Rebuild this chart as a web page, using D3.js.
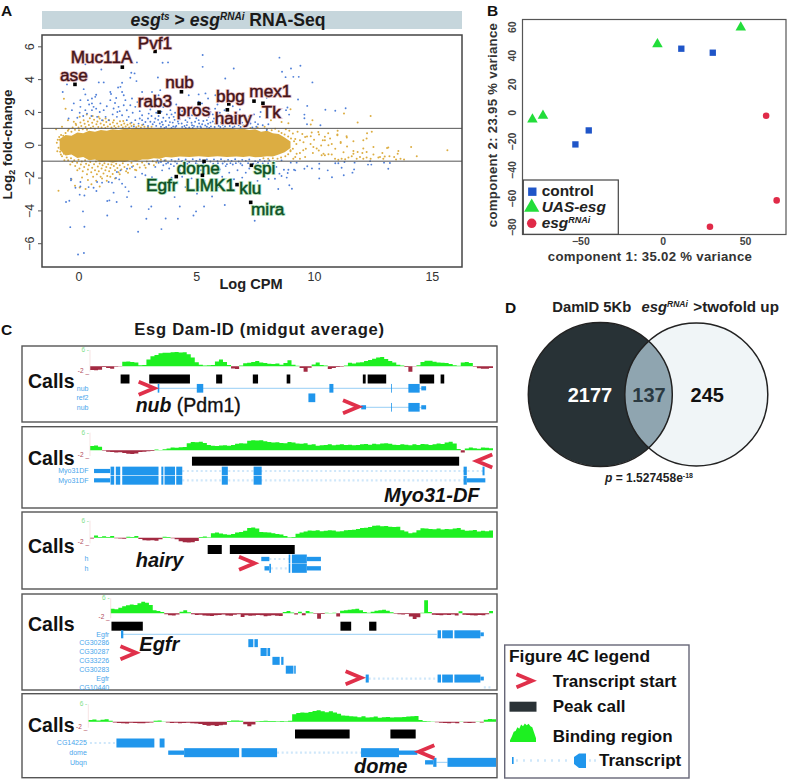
<!DOCTYPE html>
<html>
<head>
<meta charset="utf-8">
<script src="https://cdn.jsdelivr.net/npm/d3@7"></script>
<style>
  html, body { margin: 0; padding: 0; background: #fff; }
  svg { display: block; font-family: "Liberation Sans", Arial, sans-serif; }
</style>
</head>
<body>
<div id="chart"></div>
<script>
// ---- panel A: MA plot ----
const maTicksX = [0, 5, 10, 15];
const maTicksY = [-6, -4, -2, 0, 2, 4, 6];
// solid gold core of the cloud, read as an envelope along log CPM
const coreCpm = [-0.8,-0.55,-0.3,-0.05,0.2,0.45,0.7,0.95,1.2,1.45,1.7,1.95,2.2,2.45,2.7,2.95,3.2,3.45,3.7,3.95,4.3,4.7,5.1,5.5,5.9,6.3,6.7,7,7.25,7.5,7.75,8,8.25,8.5,8.75,9];
const coreTop = [0.35,0.6,0.55,0.75,0.7,0.85,0.8,0.9,0.85,0.95,0.9,0.98,0.95,1,0.96,1,0.97,1,0.95,1,0.96,1,0.95,1,0.96,1,0.95,0.98,0.9,0.95,0.8,0.85,0.7,0.65,0.45,0.2];
const coreBot = [-0.3,-0.65,-0.6,-0.8,-0.75,-0.95,-0.9,-1.05,-1,-1.1,-1,-1.05,-0.95,-1,-0.9,-0.9,-0.82,-0.85,-0.75,-0.78,-0.72,-0.75,-0.7,-0.74,-0.7,-0.75,-0.72,-0.74,-0.7,-0.76,-0.75,-0.7,-0.72,-0.6,-0.45,-0.2];

const goldPoints = [
  [-0.85,-2.8],[-0.45,1.5],[-0.62,2.8],[-0.7,1.1],[-0.95,0.95],[-0.55,2.2],[-0.3,-2.1],[-0.15,-2.5],[0.05,-2.6],[0.3,-2.7],[0.55,-2.4],[0.9,-2.55],[1.2,-2.2],[1.55,-2.05],
  [-0.2,1.4],[0.05,1.7],[0.35,1.85],[0.6,1.75],[0.85,1.7],[1.15,1.6],[1.5,1.5],[1.9,1.45],[2.2,1.3],[2.7,1.2],[0.15,-2.0],[0.4,-2.15],[0.75,-2.2],[1.0,-2.05],[1.35,-1.95],[1.75,-1.8],[2.1,-1.7],[2.45,-1.55],[2.85,-1.4],[3.2,-1.25],
  [-0.8,0.3],[-0.9,-0.4],[-0.75,-0.6],[-0.6,-0.95],[-0.45,0.85],[-0.35,-1.2],[-0.1,1.2],[-0.05,-1.55],
  // left shoulder above the cloud
  [-0.55,0.72],[-0.42,0.95],[-0.3,0.8],[-0.25,1.05],[-0.15,0.92],[-0.12,1.28],[0.0,1.05],[0.02,0.88],[0.08,1.35],[0.12,1.15],[0.18,0.95],[0.22,1.5],[0.26,1.28],[0.3,1.08],[0.36,0.92],[0.4,1.42],[0.44,1.2],[0.48,1.62],[0.52,1.02],[0.58,1.34],[0.62,1.12],[0.66,1.52],[0.7,0.98],[0.76,1.25],[0.8,1.42],[0.84,1.08],[0.9,1.6],[0.94,1.3],[0.98,1.05],[1.04,1.48],[1.08,1.2],[1.14,1.02],[1.18,1.38],[1.24,1.12],[1.3,1.5],[1.34,1.25],[1.4,1.05],[1.46,1.36],[1.52,1.15],[1.58,1.02],[1.64,1.3],[1.7,1.12],[1.76,1.44],[1.82,1.2],[1.88,1.05],[1.94,1.3],[2.0,1.12],[2.08,1.22],[2.15,1.05],[2.25,1.15],[2.35,1.24],[2.45,1.06],[2.55,1.14],[2.65,1.05],[2.8,1.1],[2.95,1.06],[3.1,1.1],
  // left shoulder below the cloud
  [-0.5,-0.78],[-0.44,-0.95],[-0.32,-0.82],[-0.26,-1.05],[-0.18,-0.95],[-0.14,-1.3],[-0.06,-1.1],[0.0,-0.92],[0.04,-1.45],[0.1,-1.2],[0.14,-1.02],[0.18,-1.62],[0.24,-1.36],[0.28,-0.95],[0.32,-1.15],[0.36,-1.8],[0.4,-1.5],[0.44,-1.25],[0.5,-1.05],[0.54,-1.68],[0.58,-1.4],[0.62,-1.95],[0.66,-1.18],[0.7,-1.55],[0.74,-1.02],[0.78,-1.8],[0.82,-1.32],[0.86,-1.62],[0.9,-1.14],[0.94,-1.95],[0.98,-1.45],[1.02,-1.25],[1.06,-1.75],[1.1,-1.12],[1.14,-1.55],[1.18,-1.35],[1.22,-1.9],[1.26,-1.18],[1.3,-1.62],[1.35,-1.42],[1.4,-1.2],[1.45,-1.78],[1.5,-1.3],[1.55,-1.55],[1.6,-1.15],[1.65,-1.42],[1.7,-1.68],[1.75,-1.25],[1.82,-1.5],[1.88,-1.12],[1.95,-1.35],[2.02,-1.62],[2.1,-1.22],[2.18,-1.45],[2.25,-1.1],[2.32,-1.3],[2.4,-1.52],[2.5,-1.18],[2.6,-1.38],[2.7,-1.08],[2.8,-1.25],[2.9,-1.02],[3.0,-1.18],[3.15,-1.0],[3.3,-1.08],[3.5,-0.92],[3.7,-0.95],
  // left tip and right tail of the cloud
  [-0.92,0.12],[-0.88,0.3],[-0.85,-0.18],[-0.82,0.48],[-0.78,-0.42],[-0.74,0.6],[-0.7,-0.7],[-0.65,0.55],[-0.62,-0.55],
  [7.3,1.02],[7.6,1.05],[7.9,1.1],[8.0,0.95],[8.2,0.88],[8.35,0.98],[8.5,0.82],[8.62,0.72],[8.75,0.62],[8.9,0.5],[9.02,0.38],[9.15,0.22],[9.25,0.05],[9.1,-0.25],[9.0,-0.4],[8.9,-0.58],[8.78,-0.7],[8.6,-0.78],[8.45,-0.85],[8.25,-0.82],[8.05,-0.85],[7.85,-0.82],
  [8.17,1.5],[8.62,1.39],[8.91,1.31],[9.0,2.17],[9.86,1.23],[9.93,1.5],[11.27,1.9],[12.4,1.76],[11.85,1.36],
  [10.18,0.78],[10.21,0.62],[10.99,0.62],[10.68,0.38],[11.38,0.52],[12.23,0.38],[12.09,0.28],[11.67,0.22],[11.13,0.17],[10.46,0.28],[9.9,0.75],[9.5,0.66],[9.3,0.8],[9.7,0.5],[10.0,0.3],[9.55,0.15],[9.2,0.35],[9.85,0.05],[10.3,-0.05],[10.75,0.05],[11.4,-0.1],[10.9,-0.25],[10.2,-0.35],[9.65,-0.25],[9.4,-0.5],[9.2,-0.75],[9.95,-0.5],[10.4,-0.55],[9.1,0.68],[8.95,0.85],[8.8,0.95],
  [10.89,-0.85],[11.03,-0.91],[11.17,-0.85],[11.32,-0.89],[11.46,-0.78],[11.6,-0.7],[11.67,-0.54],[11.81,-0.85],[11.95,-0.74],[12.09,-0.85],[12.23,-0.78],[12.4,-0.85],[12.23,-0.44],[12.09,-0.23],[11.85,-0.44],[11.67,-0.38],[11.39,0.44],[11.13,0.11],[10.99,0.58],[10.61,-0.03],[10.46,0.49],[10.37,0.27],[10.11,-0.23],[9.86,0.52],[9.62,0.48],[9.4,0.27],[9.97,-0.13],[9.54,-0.34],[9.26,-0.54],[9.0,-0.34],[9.12,-0.85],[9.4,-0.85],[9.62,-0.74],[10.46,-0.64],[10.61,-0.58],[10.32,-0.64],[12.52,-0.13],[12.8,-0.75],[12.94,-0.85],[12.73,-0.78],[13.15,-0.17],[13.58,-0.38],[13.67,-0.85],[14.12,-0.13],[14.36,-0.7],[15.66,-0.34],[13.82,-0.9],[13.48,-0.9],[13.1,-0.2],[13.2,-0.7],[13.0,-0.72],[12.52,-0.6],[12.25,0.7],[12.45,0.8],[13.4,-0.75],[13.55,-0.55],[12.9,-0.5],[11.0,0.85],[10.6,0.7],[12.05,-0.5],[11.25,-0.45],[10.75,-0.6]
];
const blueUp = [
  [5.27,5.47],[3.8,5.02],[3.57,5.0],[3.37,4.1],[5.27,4.75],[6.59,4.65],[0.97,4.59],[0.29,4.9],[2.48,5.02],[2.24,4.39],[2.38,4.35],[2.2,4.08],[2.46,3.88],[1.85,3.78],[1.78,3.53],[1.68,3.49],[0.86,3.8],[1.07,3.8],[-0.49,3.68],[0.22,3.39],[-0.67,3.22],[1.35,3.22],[1.85,3.22],[1.38,3.09],[0.29,3.07],[1.92,3.02],[0.08,2.72],[0.57,2.82],[0.71,2.92],[0.4,2.72],[0.57,2.52],[-0.2,2.52],[0.93,2.52],[1.35,2.72],[1.99,2.72],[2.27,2.82],[2.7,3.22],[3.12,3.22],[3.47,3.33],[3.4,3.02],[3.83,3.02],[4.68,3.02],[5.1,3.07],[5.39,3.13],[5.5,2.82],[6.23,4.04],[5.1,2.62],[5.24,2.52],[5.81,3.02],[0.08,2.31],[0.29,2.11],[0.57,2.11],[0.64,2.31],[0.36,1.9],[0.79,1.7],[1.07,2.11],[1.49,2.21],[1.7,2.31],[1.92,2.41],[2.2,2.41],[2.41,2.31],[2.7,1.8],[2.98,1.9],[3.26,1.6],[2.13,1.7],[1.85,1.8],[1.63,1.7],[1.28,1.5],[1.0,1.5],[2.41,1.5],[2.55,1.29],[2.84,1.39],[3.54,1.39],[3.9,2.11],[4.04,1.7],[4.25,1.29],[4.54,1.5],[4.82,1.8],[5.1,1.5],[5.32,1.8],[5.52,1.7],[6.09,1.7],[5.81,1.29],[4.82,1.19],[4.4,1.09],[4.11,1.09],[3.83,1.19],[-0.28,2.11],[-0.42,1.6],[7.08,1.6],[6.8,1.19],[6.38,1.29],[6.16,1.0],
  [8.53,5.31],[9.02,4.65],[9.42,4.82],[8.64,4.45],[8.79,4.12],[9.12,4.14],[9.35,4.14],[9.93,3.8],[9.32,2.76],[9.71,2.37],[10.48,2.13],[10.9,2.07],[11.34,2.23],[8.87,2.27],[8.81,2.11],[8.94,1.84],[9.59,1.84],[9.59,1.62],[9.7,1.25],[10.27,1.19],[7.99,2.86],[7.73,2.0],[7.7,1.7],[8.06,1.25],[7.82,1.19],[7.99,0.9],
  [0.45,2.45],[0.75,2.2],[0.9,2.0],[0.2,1.75],[1.2,2.35],[1.55,2.55],[1.75,2.05],[2.05,2.1],[2.3,1.95],[2.6,2.05],[2.85,2.35],[3.05,2.15],[3.25,2.45],[3.6,2.3],[3.75,1.85],[3.15,1.25],[3.3,1.15],[3.5,1.1],[3.7,1.45],[3.85,1.65],[4.0,1.35],[4.15,1.15],[4.3,1.55],[4.45,1.85],[4.6,1.2],[4.7,1.05],[4.95,1.4],[5.05,1.1],[5.25,1.25],[5.45,1.1],[5.6,1.35],[5.75,1.6],[5.95,1.15],[6.05,1.35],[6.25,1.5],[6.45,1.65],[6.6,1.35],[6.7,1.85],[6.95,1.35],[7.15,1.15],[7.3,1.3],[7.45,1.85],[7.55,1.1],[7.1,1.05],[6.55,1.05],[5.55,1.02],[5.2,1.04],[4.55,1.03],[4.85,1.03],[3.95,1.02],[3.65,1.03],
  [1.45,1.85],[1.15,1.7],[0.55,1.75],[1.65,2.0],[2.25,1.35],[2.05,1.5],[2.7,1.5],[2.95,1.6],[3.1,1.75],[3.4,1.75],[3.6,1.65],[3.45,1.3],[3.05,1.4],[2.6,1.6],[4.1,1.95],[4.3,2.2],[4.55,2.0],[4.75,2.25],[4.95,1.95],[5.35,2.15],[5.6,2.0],[5.8,2.2],[6.0,1.95],[6.2,2.1],[5.9,2.45],[6.85,2.15],[6.55,2.35],[7.0,2.55],[4.15,2.45],[3.7,2.6],[2.95,2.6],[2.5,2.6],[1.6,2.85],[0.75,3.05],[0.05,1.95],[-0.05,1.65],
  // denser part of the band just over the +1 line
  [2.35,1.12],[2.75,1.24],[2.95,1.14],[3.22,1.38],[3.38,1.52],[3.58,1.22],[3.72,1.08],[3.88,1.38],[4.02,1.12],[4.08,1.52],[4.22,1.42],[4.38,1.3],[4.5,1.14],[4.62,1.38],[4.72,1.62],[4.8,1.34],[4.9,1.15],[5.0,1.62],[5.12,1.3],[5.18,1.12],[5.3,1.45],[5.38,1.18],[5.5,1.28],[5.62,1.12],[5.7,1.42],[5.78,1.08],[5.9,1.42],[6.02,1.08],[6.12,1.22],[6.22,1.12],[6.32,1.42],[6.42,1.14],[6.5,1.32],[6.62,1.12],[6.72,1.5],[6.88,1.08],[7.0,1.18],[7.22,1.4],[7.38,1.06],[7.5,1.38],[7.62,1.25],[3.3,1.95],[3.52,2.02],[3.95,1.85],[4.22,1.72],[4.4,2.05],[4.65,1.72],[5.0,2.2],[5.25,1.98],[5.45,1.5],[5.7,1.85],[5.95,1.72],[6.35,1.85],[6.6,1.68],[6.9,1.72],[7.25,1.72]
];
const blueDown = [
  [-0.53,-3.49],[-0.39,-3.41],[0.19,-4.06],[-0.35,-5.02],[0.25,-5.0],[-0.02,-6.69],[0.23,-6.6],[1.22,-4.31],[1.22,-3.43],[1.31,-3.39],[1.62,-3.49],[2.24,-3.76],[2.53,-5.3],[2.88,-4.51],[2.98,-3.92],[3.09,-3.76],[3.52,-5.14],[3.7,-4.49],[4.22,-4.51],[4.3,-3.76],[4.88,-4.31],[4.99,-4.06],[5.33,-3.76],[6.21,-3.67],[5.67,-3.15],[5.03,-2.98],[4.08,-3.19],[2.06,-3.19],[1.49,-2.92],[2.13,-2.84],[0.05,-3.04],[0.25,-3.09],[-0.13,-2.62],[0.08,-2.27],[0.08,-2.54],[-0.32,-2.07],[-0.32,-2.17],[0.43,-2.58],[0.64,-2.62],[0.76,-2.82],[0.79,-2.27],[1.0,-2.31],[1.28,-2.27],[1.42,-2.31],[1.59,-2.03],[1.73,-2.11],[1.85,-2.37],[1.99,-2.58],[1.63,-1.66],[1.78,-1.56],[2.06,-1.46],[2.27,-1.35],[2.41,-1.97],[2.7,-1.76],[2.84,-1.86],[3.12,-1.97],[3.4,-2.58],[4.04,-2.62],[3.7,-2.27],[3.26,-1.35],[2.98,-1.15],[3.55,-1.56],[4.54,-2.58],[5.1,-2.58],[5.46,-2.68],[5.95,-2.58],[6.52,-2.68],
  [7.48,-4.63],[8.95,-2.47],[9.06,-2.68],[8.48,-2.7],[10.22,-2.05],[10.76,-1.98],[11.26,-1.86],[11.63,-1.7],[11.7,-1.5],[11.17,-1.4],[10.58,-1.56],[10.22,-1.46],[10.22,-1.15],[9.59,-1.46],[9.71,-1.31],[9.91,-1.44],[9.15,-1.52],[9.2,-1.56],[8.91,-1.52],[8.88,-1.72],[8.72,-1.52],[8.84,-2.0],[8.62,-1.9],[8.53,-1.76],[8.34,-2.07],[8.07,-2.09],[9.01,-1.09],[9.26,-1.09],[10.9,-1.13],[11.03,-1.13],[11.29,-1.05],[11.72,-1.09],[12.29,-1.21],[12.43,-1.21],[12.38,-1.0],[12.97,-1.09],[13.22,-1.11],[13.15,-1.46],[8.62,-0.95],
  [3.35,-0.95],[3.5,-1.05],[3.65,-0.95],[3.8,-1.1],[3.95,-0.92],[4.1,-1.02],[4.25,-0.88],[4.4,-1.0],[4.55,-0.9],[4.7,-1.05],[4.85,-0.88],[5.0,-0.98],[5.15,-0.9],[5.45,-0.9],[5.6,-1.02],[5.75,-0.9],[5.9,-1.0],[6.05,-0.88],[6.2,-1.02],[6.35,-0.92],[6.5,-0.98],[6.65,-0.88],[6.8,-1.02],[6.95,-0.92],[7.1,-0.98],[7.25,-0.9],[7.5,-1.0],[7.7,-0.92],[7.9,-1.0],[8.1,-0.95],[8.3,-1.02],
  [3.6,-1.25],[3.85,-1.45],[4.05,-1.3],[4.3,-1.55],[4.5,-1.25],[4.65,-1.7],[4.9,-1.4],[5.05,-1.2],[5.2,-1.55],[5.5,-1.3],[5.65,-1.65],[5.85,-1.25],[6.0,-1.5],[6.25,-1.3],[6.4,-1.7],[6.55,-1.2],[6.75,-1.55],[6.95,-1.25],[7.1,-1.7],[7.25,-1.45],[7.55,-1.2],[7.7,-1.5],[7.85,-1.75],[8.0,-1.3],[8.2,-1.55],[8.4,-1.35],[6.1,-1.95],[5.8,-2.1],[5.35,-2.2],[4.8,-2.05],[4.4,-1.95],[3.95,-2.0],[6.6,-2.1],[6.95,-2.0],[7.6,-2.2],[7.3,-2.45],
  [3.4,-1.1],[3.72,-1.15],[3.92,-1.18],[4.18,-1.14],[4.35,-1.22],[4.62,-1.16],[4.78,-1.22],[4.98,-1.12],[5.3,-1.14],[5.72,-1.16],[5.92,-1.12],[6.12,-1.14],[6.3,-1.18],[6.45,-1.12],[6.68,-1.12],[6.88,-1.14],[7.2,-1.12],[7.42,-1.16],[7.62,-1.08],[7.82,-1.14],[8.05,-1.12],[8.25,-1.2]
];
const maGenesUp = ["ase","Muc11A","Pvf1","nub","rab3","pros","bbg","hairy","mex1","Tk"];
const maUpX = [-0.15, 1.86, 3.25, 4.37, 3.42, 5.12, 6.38, 6.32, 7.45, 7.83];
const maUpY = [3.68, 4.73, 5.69, 3.23, 1.99, 2.51, 2.49, 2.13, 2.66, 2.53];
const maGenesDown = ["dome","Egfr","LIMK1","spi","klu","mira"];
const maDownX = [5.33, 4.15, 5.26, 7.34, 6.73, 7.31];
const maDownY = [-1.01, -1.94, -1.86, -1.25, -2.43, -3.51];
// where each name sits relative to its marker
const labelOffsets = {
  ase:[-15,-3.7], Muc11A:[-51.7,-4.3], Pvf1:[-17.3,-2.7], nub:[-16.3,-3.3], rab3:[-21.3,-4.7], pros:[-22.3,12], bbg:[-12.7,-2], hairy:[-12.7,14.3], mex1:[-4.7,-4.3], Tk:[-1.3,15],
  dome:[-27.3,12.3], Egfr:[-30.3,14.3], LIMK1:[-17,15.7], spi:[2,9], klu:[2.3,9.7], mira:[0.3,13]
};

// ---- panel B: PCA ----
const pcaTicksX = [-50, 0, 50];
const pcaTicksY = [-80, -60, -40, -20, 0, 20, 40, 60];
const controlX = [11.3, 30.4, -44.9, -53];
const controlY = [44.6, 41.8, -12.6, -22.4];
const uasX = [47.4, -3.2, -72.7, -79.1];
const uasY = [59.5, 47.8, -2.3, -4.9];
const rnaiX = [62.8, 69.2, 28.7];
const rnaiY = [-2.3, -61.6, -80];

// ---- panel C: Dam-ID signal per window (-2..6), left to right ----
const nubSignal = [-1.4,-1.5,-1.3,-0.3,-0.6,-0.9,-0.2,-0.1,1.7,1.8,1.6,1.4,0.4,0.5,2.5,3.7,4.2,4.8,5,5,5.2,5.3,5.1,5.2,4.4,3.2,1.5,0.6,0.3,0.4,0.5,1.8,2.5,1.6,0.5,-0.8,-1,0.3,1.1,1.3,1.6,1.9,1.4,1.2,0.9,0.8,1,0.6,1.2,2.2,0.6,0.2,-0.6,-2,-0.5,0.7,1.4,0.5,0.3,-1,-0.6,-0.3,-0.2,0.3,1.3,1,1.4,1.5,1.9,2.3,2.8,3.2,3.4,2.7,1.9,1.4,0.6,0.3,-0.3,-2,-0.1,0.4,1.6,2,2,1.7,1.4,1.3,1.2,0.8,0.4,0.2,1.4,1.6,1.2,-0.2,-0.7,-0.9,-0.9,-0.6,-0.4];
const myoSignal = [1.4,1.6,1.2,-0.2,-0.5,-0.6,-0.8,-0.7,-1,-1.2,-1.3,-1.1,-0.6,-0.5,-0.4,-0.3,0.2,0.1,0.3,0.6,0.9,0.8,1,1.1,2.4,2.8,2.7,2.9,2.5,1.8,1.5,1.4,1.6,1.7,1.5,1.8,2.2,2.4,2.3,3.2,3.4,3.3,3.4,3.1,2.8,2.6,2.7,2.5,2.4,2.8,2.6,2.3,2.2,2.4,1.9,2,1.5,1.7,1.8,2,1.7,1.9,2,1.8,1.9,1.7,1.8,2,2.1,1.9,2.2,2,2.3,2.4,2.2,1.9,1.8,2,1.9,1.7,2,1.8,2.1,2,1.8,2,2.3,2.1,2.6,2.9,2.3,0.4,-0.8,0.6,0.9,0.7,0.5,0.9,0.8,0.7,0.9];
const hairySignal = [-0.3,0.8,0.2,0.5,0.2,0.6,-0.2,-0.3,-0.4,0.3,0.2,0.6,-0.5,-0.9,-1,-0.9,-1.1,-0.6,0.3,0.2,-0.2,-0.6,-1.3,-1.6,-1.7,-1.6,-1.2,0.2,0.4,0.1,1.6,1.8,1.5,1.2,1,1.3,1.8,2,2.4,3.4,3.6,3.2,2,1.9,1.8,1.6,1.3,1.1,0.6,0.1,0.2,1.4,1.8,2.2,2.5,2.4,2.6,2.3,2.4,2.6,2.5,2.2,2.3,2.6,2.7,2.8,3.1,3.4,3.5,3.8,4.2,4.3,4,4.1,3.9,3.8,3.9,2.6,2.2,1.6,1.8,2.6,3.3,3.2,3.1,3,3.2,2.9,3.1,3,3.2,3.4,2.8,2.4,2.5,2.7,2.2,2.4,2.3,2.5,2.2];
const egfrSignal = [1.8,1.6,2.2,2.8,3.2,3.5,3.3,4,4.6,4.2,3.3,1.2,0.9,0.5,-0.4,-0.8,-0.9,-0.5,0.6,1.2,0.4,-0.4,-0.7,-0.6,-0.9,-1,-1.1,-0.8,-0.7,-0.5,-0.9,-1,-0.6,-0.4,-1.5,-0.8,-1,-0.9,-0.7,-0.8,-1.2,-1,-0.8,-1,-1.1,0.5,0.9,0.3,-0.5,0.6,-0.8,0.9,0.3,-0.2,-2.2,-0.3,0.2,0.1,0.2,-1.3,1,1.2,1.4,1.6,1.8,1.2,0.5,0.2,0.6,1,1.2,1.4,1,0.4,-0.2,-0.4,-0.5,-0.3,-1.3,-2.3,-1.6,0.2,5.2,0.5,-0.6,-0.7,-0.8,-0.6,-0.7,-0.5,-0.9,0.8,-0.6,-0.7,-0.8,-0.9,-0.7,-0.8,-0.4,0.9,0.8];
const domeSignal = [0.6,0.8,0.5,0.7,0.9,0.4,-0.2,-0.4,-0.5,-0.6,-0.3,-0.4,-0.5,-0.5,-0.3,-0.2,0.4,0.5,0.1,-0.2,-0.4,-0.3,-0.5,-0.4,-0.3,-0.5,-0.6,-0.7,-1.1,-1.3,-1.2,-1.4,-1.2,-1,0.3,0.5,0.5,0.4,-0.8,-1.5,-0.9,0.2,0.3,0.4,0.3,0.3,0.2,0.3,0.2,0.4,2.6,3,3.2,3.1,3.4,3.7,4,3.6,3.3,3.6,3.2,2.8,2.2,2.1,1.9,1.8,1.6,1.9,1.5,1.6,1.8,1.4,1.6,1.7,1.5,1.6,1.6,1.7,1.8,1.9,2,0.6,0.3,0.2,0.1,-0.1,-0.3,-0.4,-0.5,-0.3,-0.5,0.1,-0.3,-0.4,-0.3,0.1,-0.2,0.7,1,0.9,0.8];

const nubPeaks = [[7.6,9.8],[14.7,24.8],[31.3,32.8],[40.4,41.7],[48.8,49.7],[67.7,68.4],[68.9,73.5],[81.8,85.4],[87,87.9]];
const myoPeaks = [[25.3,91.6]];
const hairyPeaks = [[29.2,32.7],[34.7,50.8]];
const egfrPeaks = [[0.2,8.4],[60.1,62.9],[67.6,69.5]];
const domePeaks = [[50.7,64.1],[74.1,80.3]];

// transcripts: exons are [start, end, type] with c = coding, u = untranslated, t = thin tick
const nubGenes = [
  {name:"nub", intron:[17,83.4], exons:[[16.8,17.2,"t"],[26.5,28.1,"c"],[59.4,60.4,"c"],[74.7,74.85,"t"],[79,81.8,"c"],[82.2,83.4,"u"]]},
  {name:"ref2", exons:[[54.2,55.9,"c"]]},
  {name:"nub", intron:[67.3,83.4], exons:[[67.3,68.5,"u"],[74.7,74.85,"t"],[79,81.8,"c"],[82.2,83.4,"u"]]}
];
const myoCommon = [[1,5,"u"],[5.1,6,"c"],[6.4,7.5,"c"],[8,17,"c"],[17.7,18.2,"c"],[18.5,21.1,"c"],[21.4,22.9,"c"],[32.7,34.2,"c"],[40.6,42.6,"c"],[92.7,93.5,"c"]];
const myoGenes = [
  {name:"Myo31DF", ghost:[22.9,97.7], exons:myoCommon.concat([[97.4,97.9,"t"]])},
  {name:"Myo31DF", ghost:[22.9,93], exons:myoCommon.concat([[93.5,98.1,"u"]])}
];
const hairyGenes = [
  {name:"h", ghost:[44.5,49.3], exons:[[42.5,44.5,"u"],[49.3,49.7,"c"],[50.1,53.8,"c"],[53.8,57.3,"u"]]},
  {name:"h", ghost:[44.9,49.3], exons:[[43.3,44.5,"u"],[44.5,44.9,"c"],[49.3,49.7,"c"],[50.1,53.8,"c"],[53.8,57.3,"u"]]}
];
const egfrTail = [[85.5,86.4,"c"],[86.7,89.5,"c"],[89.9,96.7,"c"],[96.7,97.6,"u"]];
const egfrGenes = [
  {name:"Egfr", intron:[2.9,85.3], exons:[[2.7,3.3,"t"]].concat(egfrTail)},
  {name:"CG30286", exons:[[36,37.3,"c"],[37.6,38.5,"c"]]},
  {name:"CG30287", exons:[[39.2,40.8,"c"],[41,41.7,"c"]]},
  {name:"CG33226", exons:[[42.3,44.2,"c"],[44.6,45.2,"c"]]},
  {name:"CG30283", exons:[[45.8,47.8,"c"],[48,48.4,"c"]]},
  {name:"Egfr", ghost:[67.5,85.3], exons:[[66.7,67.5,"c"]].concat(egfrTail)},
  {name:"CG10440", ghost:[97.6,100], exons:[]}
];
const domeGenes = [
  {name:"CG14225", ghost:[0.4,6.9], exons:[[6.9,16.2,"c"],[17.5,18.7,"c"]]},
  {name:"dome", ghost:[46.3,66.9], exons:[[19.6,23.5,"u"],[23.5,37,"c"],[37.6,46.3,"c"],[66.9,76.2,"c"],[76.2,80.7,"u"]]},
  {name:"Ubqn", intron:[85.4,88.1], exons:[[82.6,84.6,"u"],[84.6,85.4,"t"],[88.1,100,"c"]]}
];

// transcript start marks: x in window %, row in transcript rows
const nubStarts = [{x:16.3,row:0,dir:1},{x:67,row:1.93,dir:1}];
const myoStarts = [{x:95.6,row:-1.07,dir:-1}];
const hairyStarts = [{x:41.2,row:0.46,dir:1}];
const egfrStarts = [{x:7,row:2.08,dir:1},{x:65.9,row:4.9,dir:1}];
const domeStarts = [{x:80.7,row:0.9,dir:-1}];

const legendBinding = [0.1,0.3,0.55,0.6,0.8,0.72,0.95,0.85,1,0.9,0.98,0.85,0.8,0.5,0.2];

const C = {
  ink: "#222",
  frame: "#444",
  gold: "#dcad42",
  blue: "#4f7fd8",
  up: "#451318",
  upHalo: "#f3cfd0",
  down: "#0c4f24",
  downHalo: "#c5ecc9",
  green: "#1df021",
  maroon: "#a32a42",
  exon: "#2096ec",
  ghost: "#cfe7fa",
  intron: "#8cc8f4",
  red: "#e0304a"
};

const svg = d3.select("#chart").append("svg").attr("width", 788).attr("height", 779);

function panelLetter(s, x, y) {
  svg.append("text").attr("x", x).attr("y", y).attr("font-weight", "bold").attr("font-size", 15.5).attr("fill", "#111").text(s);
}

function drawMA() {
  const box = {l: 42, r: 462, t: 35, b: 267};
  const x = d3.scaleLinear().domain([-1.55, 16.28]).range([box.l, box.r]);
  const y = d3.scaleLinear().domain([-7.45, 6.69]).range([box.b, box.t]);

  panelLetter("A", 1, 16);
  svg.append("rect").attr("x", 42).attr("y", 11).attr("width", 420).attr("height", 18).attr("fill", "#c6d6dc");
  const title = svg.append("text").attr("x", 228).attr("y", 26).attr("text-anchor", "middle").attr("font-weight", "bold").attr("font-size", 17.6).attr("fill", "#1a1a1a");
  title.append("tspan").attr("font-style", "italic").text("esg");
  title.append("tspan").attr("font-style", "italic").attr("font-size", 10).attr("dy", -6).text("ts");
  title.append("tspan").attr("dy", 6).text(" > ");
  title.append("tspan").attr("font-style", "italic").text("esg");
  title.append("tspan").attr("font-style", "italic").attr("font-size", 10).attr("dy", -6).text("RNAi");
  title.append("tspan").attr("dy", 6).text(" RNA-Seq");

  const core = d3.area().x((d, i) => x(coreCpm[i])).y0((d, i) => y(coreBot[i])).y1((d, i) => y(coreTop[i]));
  svg.append("path").datum(coreCpm).attr("d", core).attr("fill", C.gold);

  const dots = (data, fill, r) => svg.append("g").selectAll("circle").data(data).join("circle")
    .attr("cx", d => x(d[0])).attr("cy", d => y(d[1])).attr("r", r).attr("fill", fill);
  dots(goldPoints, C.gold, 1);
  dots(blueUp, C.blue, 0.95);
  dots(blueDown, C.blue, 0.95);

  [1, -1].forEach(v => svg.append("line").attr("x1", box.l).attr("x2", box.r).attr("y1", y(v)).attr("y2", y(v)).attr("stroke", "#555").attr("stroke-width", 1));

  svg.append("rect").attr("x", box.l).attr("y", box.t).attr("width", box.r - box.l).attr("height", box.b - box.t)
    .attr("fill", "none").attr("stroke", C.frame).attr("stroke-width", 1.5);

  const xAxis = svg.append("g").attr("transform", `translate(0,${box.b})`).call(d3.axisBottom(x).tickValues(maTicksX).tickSize(0).tickPadding(5));
  xAxis.select(".domain").remove();
  xAxis.selectAll("text").attr("font-size", 12.5).attr("font-family", "inherit").attr("fill", "#333");

  const yAxis = svg.append("g").attr("transform", `translate(${box.l},0)`).call(d3.axisLeft(y).tickValues(maTicksY).tickSize(4).tickFormat(d => d < 0 ? "\u2212" + (-d) : d));
  yAxis.select(".domain").remove();
  yAxis.selectAll("line").attr("stroke", "#555");
  // ticks are already translated, so rotate around the tick itself
  yAxis.selectAll("text").attr("font-size", 12.5).attr("font-family", "inherit").attr("fill", "#333")
    .attr("text-anchor", "middle").attr("x", 0).attr("y", 0).attr("dy", "0.36em")
    .attr("transform", "rotate(-90) translate(0,-13)");

  const yl = svg.append("text").attr("transform", "translate(12,144.5) rotate(-90)").attr("text-anchor", "middle").attr("font-weight", "bold").attr("font-size", 13.5).attr("fill", "#222");
  yl.append("tspan").text("Log");
  yl.append("tspan").attr("font-size", 9).attr("dy", 3).text("2");
  yl.append("tspan").attr("dy", -3).text(" fold-change");
  svg.append("text").attr("x", 251).attr("y", 289).attr("text-anchor", "middle").attr("font-weight", "bold").attr("font-size", 14.6).attr("fill", "#222").text("Log CPM");

  const genes = (names, xs, ys, fill, halo) => {
    names.forEach((name, i) => {
      const off = labelOffsets[name];
      const g = svg.append("g").attr("transform", `translate(${x(xs[i])},${y(ys[i])})`);
      g.append("rect").attr("x", -1.8).attr("y", -1.8).attr("width", 3.6).attr("height", 3.6).attr("fill", "#000");
      g.append("text").attr("x", off[0]).attr("y", off[1]).attr("font-size", 17.2)
        .attr("fill", "none").attr("stroke", halo).attr("stroke-width", 2.2).text(name);
      g.append("text").attr("x", off[0]).attr("y", off[1]).attr("font-size", 17.2)
        .attr("fill", fill).attr("stroke", fill).attr("stroke-width", 0.45).text(name);
    });
  };
  genes(maGenesUp, maUpX, maUpY, C.up, C.upHalo);
  genes(maGenesDown, maDownX, maDownY, C.down, C.downHalo);
}

function drawPCA() {
  const box = {l: 522.5, r: 786, t: 19.5, b: 234.5};
  const x = d3.scaleLinear().domain([-85, 75]).range([662.7 - 85 * 1.647, 662.7 + 75 * 1.647]);
  const y = d3.scaleLinear().domain([-80, 60]).range([226.7, 26.7]);

  panelLetter("B", 487, 16);
  svg.append("rect").attr("x", box.l).attr("y", box.t).attr("width", box.r - box.l).attr("height", box.b - box.t)
    .attr("fill", "none").attr("stroke", "#555").attr("stroke-width", 1.2);

  const xAxis = svg.append("g").attr("transform", `translate(0,${box.b})`).call(d3.axisBottom(x).tickValues(pcaTicksX).tickSize(0).tickPadding(3));
  xAxis.select(".domain").remove();
  xAxis.selectAll("text").attr("font-size", 10.5).attr("font-weight", "bold").attr("font-family", "inherit").attr("fill", "#444");

  const yAxis = svg.append("g").attr("transform", `translate(${box.l},0)`).call(d3.axisLeft(y).tickValues(pcaTicksY).tickSize(0));
  yAxis.select(".domain").remove();
  yAxis.selectAll("text").attr("font-size", 10.5).attr("font-weight", "bold").attr("font-family", "inherit").attr("fill", "#444")
    .attr("transform", "rotate(-90) translate(0,-10)").attr("x", 0).attr("y", 0).attr("dy", "0.36em").attr("text-anchor", "middle");

  svg.append("text").attr("x", 650).attr("y", 261).attr("text-anchor", "middle").attr("font-weight", "bold").attr("font-size", 13.2).attr("letter-spacing", 0.3).attr("fill", "#333").text("component 1: 35.02 % variance");
  svg.append("text").attr("transform", "translate(497,125) rotate(-90)").attr("text-anchor", "middle").attr("font-weight", "bold").attr("font-size", 13.2).attr("letter-spacing", 0.3).attr("fill", "#333").text("component 2: 23.95 % variance");

  const square = d3.symbol().type(d3.symbolSquare).size(40);
  const triangle = d3.symbol().type(d3.symbolTriangle).size(48);
  const circle = d3.symbol().type(d3.symbolCircle).size(34);
  const put = (xs, ys, sym, fill) => svg.append("g").selectAll("path").data(xs).join("path")
    .attr("d", sym).attr("fill", fill).attr("transform", (d, i) => `translate(${x(d)},${y(ys[i])})`);
  put(controlX, controlY, square, "#1f55c8");
  put(uasX, uasY, triangle, "#22dd3a");
  put(rnaiX, rnaiY, circle, "#e02a48");

  const leg = svg.append("g");
  leg.append("rect").attr("x", 523.3).attr("y", 180).attr("width", 95).attr("height", 54.3).attr("fill", "#fff").attr("stroke", "#444").attr("stroke-width", 1.2);
  leg.append("path").attr("d", d3.symbol().type(d3.symbolSquare).size(70)).attr("transform", "translate(532.3,191.7)").attr("fill", "#1f55c8");
  leg.append("path").attr("d", d3.symbol().type(d3.symbolTriangle).size(100)).attr("transform", "translate(531.7,207.3)").attr("fill", "#22dd3a");
  leg.append("path").attr("d", d3.symbol().type(d3.symbolCircle).size(70)).attr("transform", "translate(531.7,223.3)").attr("fill", "#e02a48");
  const lt = (yy, italic) => leg.append("text").attr("x", 541.7).attr("y", yy).attr("font-weight", "bold").attr("font-size", 15.4).attr("fill", "#222").attr("font-style", italic ? "italic" : null);
  lt(195.7, false).text("control");
  lt(211.7, true).text("UAS-esg");
  const rn = lt(227.7, true);
  rn.append("tspan").text("esg");
  rn.append("tspan").attr("font-size", 9).attr("dy", -5).text("RNAi");
}

function startMark(sel, tx, ty, dir) {
  // red open chevron with its tip at the transcript start
  const line = d3.line();
  sel.append("path").attr("d", line([[tx - dir * 17, ty - 6.5], [tx - dir * 1.5, ty], [tx - dir * 17, ty + 6.5]]))
    .attr("fill", "none").attr("stroke", C.red).attr("stroke-width", 3.8).attr("stroke-linejoin", "miter");
}

function drawTrack(t) {
  const g = svg.append("g");
  g.append("rect").attr("x", 22).attr("y", t.top).attr("width", 475).attr("height", t.bottom - t.top)
    .attr("fill", "none").attr("stroke", "#555").attr("stroke-width", 1.4);

  const x = d3.scaleLinear().domain([0, 100]).range(t.xRange);
  const v = d3.scaleLinear().domain([-2, 6]).range([t.y2, t.y6]);
  const wx = d3.scaleLinear().domain([0, t.signal.length - 1]).range([0, 100]);

  const pos = d3.area().curve(d3.curveStepAfter).x((d, i) => x(wx(i))).y0(v(0)).y1(d => v(Math.max(d, 0)));
  const neg = d3.area().curve(d3.curveStepAfter).x((d, i) => x(wx(i))).y0(v(0)).y1(d => v(Math.min(d, 0)));
  g.append("path").datum(t.signal).attr("d", pos).attr("fill", C.green);
  g.append("path").datum(t.signal).attr("d", neg).attr("fill", C.maroon);

  g.append("line").attr("x1", t.xRange[0]).attr("x2", t.xRange[0]).attr("y1", t.y6).attr("y2", t.y2).attr("stroke", "#f0d0d0").attr("stroke-width", 0.6);
  g.append("text").attr("x", t.xRange[0] - 1).attr("y", t.y6 + 2).attr("text-anchor", "end").attr("font-size", 6.5).attr("fill", "#7fe08a").text("6 -");
  g.append("text").attr("x", t.xRange[0] - 1).attr("y", t.y2 + 1).attr("text-anchor", "end").attr("font-size", 6.5).attr("fill", "#b04a5a").text("-2 _");

  g.append("g").selectAll("rect").data(t.peaks).join("rect")
    .attr("x", d => x(d[0])).attr("width", d => x(d[1]) - x(d[0]))
    .attr("y", t.peakY).attr("height", 9).attr("fill", "#000");

  const row = d3.scaleLinear().domain([0, 1]).range([t.row0, t.row0 + t.rowStep]);
  t.genes.forEach((gene, i) => {
    const yy = row(i);
    g.append("text").attr("x", x(0) - 1.5).attr("y", yy + 2.3).attr("text-anchor", "end").attr("font-size", 7).attr("fill", "#4aa6ec").text(gene.name);
    if (gene.intron) g.append("line").attr("x1", x(gene.intron[0])).attr("x2", x(gene.intron[1])).attr("y1", yy).attr("y2", yy).attr("stroke", C.intron).attr("stroke-width", 0.9);
    if (gene.ghost) g.append("line").attr("x1", x(gene.ghost[0])).attr("x2", x(gene.ghost[1])).attr("y1", yy).attr("y2", yy).attr("stroke", C.ghost).attr("stroke-width", 2.2).attr("stroke-dasharray", "2 2.6");
    gene.exons.forEach(e => {
      const h = e[2] === "u" ? t.exonH * 0.48 : t.exonH;
      g.append("rect").attr("x", x(e[0])).attr("width", Math.max(x(e[1]) - x(e[0]), 0.8))
        .attr("y", yy - h / 2).attr("height", h).attr("fill", C.exon);
    });
  });
  t.starts.forEach(s => startMark(g, x(s.x), row(s.row), s.dir));

  g.append("text").attr("x", 28).attr("y", t.callsY).attr("font-weight", "bold").attr("font-size", 19.5).attr("fill", "#111").text("Calls");
}

function drawTracks() {
  panelLetter("C", 1, 335);
  svg.append("text").attr("x", 259.5).attr("y", 335).attr("text-anchor", "middle").attr("font-weight", "bold").attr("font-size", 16.6).attr("letter-spacing", 0.7).attr("fill", "#1a1a1a").text("Esg Dam-ID (midgut average)");

  const bigName = (txt, xx, yy) => svg.append("text").attr("x", xx).attr("y", yy).attr("font-weight", "bold").attr("font-style", "italic").attr("font-size", 20).attr("fill", "#111").text(txt);

  drawTrack({top: 346, bottom: 422, xRange: [90, 493], y6: 350, y2: 371.7, signal: nubSignal, peaks: nubPeaks, peakY: 374.5, genes: nubGenes, row0: 388.3, rowStep: 9.5, exonH: 8.7, starts: nubStarts, callsY: 388});
  drawTrack({top: 426.7, bottom: 508, xRange: [90, 493], y6: 432.7, y2: 456, signal: myoSignal, peaks: myoPeaks, peakY: 456.7, genes: myoGenes, row0: 471, rowStep: 9.33, exonH: 8.7, starts: myoStarts, callsY: 465});
  drawTrack({top: 512, bottom: 589, xRange: [90, 493], y6: 520.7, y2: 543.3, signal: hairySignal, peaks: hairyPeaks, peakY: 545, genes: hairyGenes, row0: 559, rowStep: 9.33, exonH: 9, starts: hairyStarts, callsY: 552.7});
  drawTrack({top: 594, bottom: 690, xRange: [110.7, 493], y6: 598.3, y2: 618.3, signal: egfrSignal, peaks: egfrPeaks, peakY: 621.7, genes: egfrGenes, row0: 634.3, rowStep: 8.85, exonH: 8, starts: egfrStarts, callsY: 631});
  drawTrack({top: 693.7, bottom: 777.7, xRange: [88.3, 496], y6: 704.3, y2: 727.7, signal: domeSignal, peaks: domePeaks, peakY: 729.5, genes: domeGenes, row0: 743, rowStep: 9.67, exonH: 9, starts: domeStarts, callsY: 732});

  const nub = svg.append("text").attr("x", 135.7).attr("y", 412.3).attr("font-size", 19.5).attr("fill", "#111");
  nub.append("tspan").attr("font-weight", "bold").attr("font-style", "italic").text("nub");
  nub.append("tspan").attr("stroke", "#111").attr("stroke-width", 0.35).text(" (Pdm1)");
  bigName("Myo31-DF", 384, 501.7);
  bigName("hairy", 135.7, 566.7);
  bigName("Egfr", 139.3, 650.7);
  bigName("dome", 354, 773.3);
}

function drawVenn() {
  panelLetter("D", 505, 313);
  const head = svg.append("text").attr("x", 552.3).attr("y", 311.7).attr("font-weight", "bold").attr("font-size", 14.8).attr("fill", "#222");
  head.append("tspan").text("DamID 5Kb");
  head.append("tspan").attr("x", 641.5).attr("font-style", "italic").text("esg");
  head.append("tspan").attr("font-style", "italic").attr("font-size", 8.5).attr("dy", -5).text("RNAi");
  head.append("tspan").attr("dy", 5).attr("x", 693.3).attr("font-size", 15.2).text(">twofold up");

  const cx = [600.3, 696.3];
  const cy = 394.5;
  const r = [72, 71.5];
  const defs = svg.append("defs");
  defs.append("clipPath").attr("id", "vennClip").append("circle").attr("cx", cx[0]).attr("cy", cy).attr("r", r[0]);
  svg.append("circle").attr("cx", cx[1]).attr("cy", cy).attr("r", r[1]).attr("fill", "#f0f5f7");
  svg.append("circle").attr("cx", cx[0]).attr("cy", cy).attr("r", r[0]).attr("fill", "#283236");
  svg.append("circle").attr("cx", cx[1]).attr("cy", cy).attr("r", r[1]).attr("fill", "#8fa5b0").attr("clip-path", "url(#vennClip)");
  svg.append("circle").attr("cx", cx[1]).attr("cy", cy).attr("r", r[1]).attr("fill", "none").attr("stroke", "#222").attr("stroke-width", 1.5);
  svg.append("circle").attr("cx", cx[0]).attr("cy", cy).attr("r", r[0]).attr("fill", "none").attr("stroke", "#222").attr("stroke-width", 1.5);

  const num = (txt, xx, fill) => svg.append("text").attr("x", xx).attr("y", 401.7).attr("text-anchor", "middle").attr("font-weight", "bold").attr("font-size", 20).attr("fill", fill).text(txt);
  num("2177", 590, "#fff");
  num("137", 649, "#2b3a42");
  num("245", 707.3, "#111");

  const p = svg.append("text").attr("x", 649).attr("y", 481.7).attr("text-anchor", "middle").attr("font-weight", "bold").attr("font-size", 12).attr("fill", "#222");
  p.append("tspan").attr("font-style", "italic").text("p");
  p.append("tspan").text(" = 1.527458e");
  p.append("tspan").attr("font-size", 7).attr("dy", -4).text("-18");
}

function drawLegend() {
  const g = svg.append("g");
  g.append("rect").attr("x", 504.7).attr("y", 645).attr("width", 184.3).attr("height", 133).attr("fill", "#fff").attr("stroke", "#667").attr("stroke-width", 1.4);
  g.append("text").attr("x", 509).attr("y", 661.7).attr("font-weight", "bold").attr("font-size", 17.4).attr("fill", "#111").text("Figure 4C legend");
  const row = (txt, xx, yy) => g.append("text").attr("x", xx).attr("y", yy).attr("font-weight", "bold").attr("font-size", 17).attr("fill", "#111").text(txt);
  row("Transcript start", 552.7, 686.7);
  row("Peak call", 552.7, 711.7);
  row("Binding region", 552.7, 741.7);
  row("Transcript", 599, 766);
  startMark(g, 533.5, 680.7, 1);
  g.append("rect").attr("x", 509.5).attr("y", 701.7).attr("width", 27).attr("height", 10).attr("fill", "#2a3236");
  const lx = d3.scaleLinear().domain([0, legendBinding.length - 1]).range([510, 536]);
  const ly = d3.scaleLinear().domain([0, 1]).range([742, 723.5]);
  g.append("path").datum(legendBinding).attr("d", d3.area().x((d, i) => lx(i)).y0(ly(0)).y1(d => ly(d))).attr("fill", C.green);
  g.append("rect").attr("x", 512).attr("y", 757).attr("width", 1.6).attr("height", 7).attr("fill", C.exon);
  g.append("line").attr("x1", 516).attr("x2", 570).attr("y1", 760.5).attr("y2", 760.5).attr("stroke", C.ghost).attr("stroke-width", 2.4).attr("stroke-dasharray", "2 5");
  g.append("path").attr("d", "M574,757 L579,753.5 L586,753.5 L586,768 L579,768 L574,764 Z").attr("fill", C.exon);
  g.append("line").attr("x1", 589).attr("x2", 597).attr("y1", 760.5).attr("y2", 760.5).attr("stroke", C.ghost).attr("stroke-width", 2.4).attr("stroke-dasharray", "2 3");
}

drawMA();
drawPCA();
drawTracks();
drawVenn();
drawLegend();
</script>
</body>
</html>
